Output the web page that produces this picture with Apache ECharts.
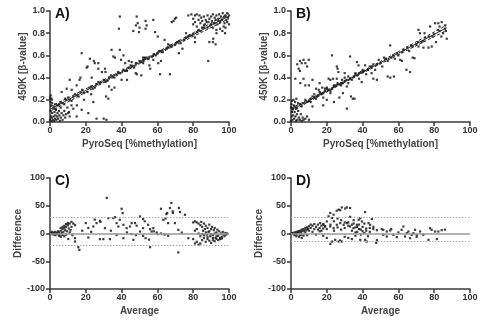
<!DOCTYPE html>
<html><head><meta charset="utf-8">
<script src="https://cdn.jsdelivr.net/npm/echarts/dist/echarts.min.js"></script>
<style>html,body{margin:0;padding:0;background:#fff}#c{width:500px;height:321px}</style>
</head><body><div id="c"></div>
<script>
// ---------- DATA ----------
const xTicks = [0, 20, 40, 60, 80, 100];
const betaTicks = [0.0, 0.2, 0.4, 0.6, 0.8, 1.0];
const diffTicks = [-100, -50, 0, 50, 100];
const panelLabels = ['A)', 'B)', 'C)', 'D)'];
const scatterXName = 'PyroSeq [%methylation]';
const scatterYName = '450K [β-value]';
const baXName = 'Average';
const baYName = 'Difference';

// Panel A: PyroSeq (%) vs 450K beta
const aPoints = [
 [2,0.14],[4,0.15],[5,0.16],[7,0.17],[9,0.2],[11,0.2],[13,0.23],[15,0.24],[17,0.27],[19,0.26],[22,0.31],[24,0.3],[26,0.34],[28,0.35],[31,0.36],[33,0.4],[35,0.41],[37,0.43],[39,0.44],[42,0.46],[44,0.49],[46,0.5],[48,0.53],[51,0.54],[53,0.57],[55,0.57],[58,0.61],[60,0.62],[62,0.64],[65,0.66],[67,0.69],[70,0.7],[72,0.73],[75,0.74],[77,0.77],[79,0.78],[82,0.81],[84,0.82],[86,0.85],[88,0.85],[90,0.88],[92,0.89],[94,0.91],[96,0.92],[98,0.95],
 [39,0.95],[48.4,0.95],[49,0.89],[48,0.87],[50,0.85],[46.5,0.82],[53.4,0.91],[57.7,0.92],[53.4,0.84],[38.5,0.84],[17.7,0.62],[22.3,0.57],[25,0.53],[24.5,0.55],[21,0.5],[20.5,0.49],[17,0.4],[16.5,0.38],[11,0.38],[9.3,0.3],[30.7,0.48],[31,0.45],[34.4,0.65],[39,0.65],[35.4,0.59],[41,0.6],[45.6,0.54],[52,0.58],[53,0.58],[52,0.56],[57.7,0.56],[60.5,0.53],[55.5,0.51],[47.9,0.44],[48.5,0.43],[43,0.38],[40,0.38],[51,0.42],[34.4,0.29],[32.6,0.21],[24.2,0.18],[21.4,0.08],[17.7,0.11],[14.9,0.05],[10.2,0.08],[30,0.03],[31.5,0.02],[26,0.03],[61.5,0.43],[67,0.43],[68,0.9],[69,0.91],[69.8,0.93],[70.5,0.94],[80,0.93],[79,0.97],[81,0.96],[82,0.97],[83.5,0.96],[81,0.72],[85,0.85],[86,0.87],[87.5,0.9],[89,0.72],[91,0.72],[92.5,0.7],[93,0.8],[97.8,0.8],[88.4,0.55],[81,0.76],[91.2,0.75],[96.3,0.82],[77.3,0.96],[12.1,0.29],[14.9,0.33],[8.4,0.21],[6.5,0.27],[4.7,0.15],[9.7,0.13],[10.6,0.09],[0.4,0.24],[1,0.2],[23.3,0.4],[36.3,0.58],[39.7,0.56],[27,0.53],[31.3,0.23],[54,0.87],[58.7,0.81],[49.7,0.81],[60.2,0.77],
 [80,0.88],[81,0.9],[82,0.86],[83,0.92],[84,0.89],[84.5,0.94],[85,0.91],[86,0.95],[86.5,0.88],[87,0.92],[88,0.96],[88.5,0.9],[89,0.93],[89.5,0.87],[90,0.95],[90.5,0.91],[91,0.97],[91.5,0.89],[92,0.94],[92.5,0.92],[93,0.96],[93.5,0.88],[94,0.93],[94.5,0.97],[95,0.9],[95.5,0.95],[96,0.92],[96.5,0.98],[97,0.94],[97.5,0.89],[98,0.96],[98.5,0.92],[99,0.98],[99.5,0.94],[100,0.96],[99,0.9],[97,0.86],[95,0.84],[93,0.83],[91,0.85],[100,0.88],[98,0.85],
 [0,0.02],[0.5,0.05],[0.3,0.1],[0.8,0.01],[1,0.04],[1.2,0.08],[1.5,0.02],[1.8,0.12],[2,0.05],[2.2,0.01],[2.5,0.09],[2.8,0.03],[3,0.06],[3.3,0.11],[3.5,0.02],[4,0.05],[4.2,0.08],[4.5,0.03],[5,0.1],[5.2,0.06],[5.5,0.01],[6,0.04],[6.5,0.08],[7,0.02],[7.5,0.06],[8,0.1],[8.5,0.04],[9,0.07],[0.2,0.18],[0.6,0.15],[1.2,0.17],[0,0.22],[0.8,0.21],[3,0.16],[6,0.13],[12,0.15],[13,0.12],[11,0.05],
 [27,0.48],[29,0.45],[33,0.32],[36,0.31],[42,0.53],[44,0.55],[56,0.48],[64,0.74],[66,0.7],[72,0.62],[74,0.66],[76,0.8],[62,0.55],[19,0.2],[15,0.15],[23,0.25],
 [3,0.12],[6,0.18],[8,0.16],[10,0.22],[12,0.19],[14,0.25],[16,0.23],[18,0.29],[21,0.27],[23,0.32],[25,0.31],[27,0.36],[30,0.38],[32,0.37],[34,0.42],[36,0.4],[38,0.45],[41,0.47],[43,0.46],[45,0.51],[47,0.49],[50,0.55],[52,0.53],[54,0.58],[57,0.59],[59,0.6],[61,0.64],[63,0.63],[66,0.67],[68,0.68],[71,0.72],[73,0.71],[76,0.76],[78,0.78],[80,0.79],[83,0.83]
];
const aFitX = [0, 20, 40, 60, 80, 100];
const aFitMid = [0.115, 0.283, 0.451, 0.619, 0.787, 0.955];
const aFitUp  = [0.137, 0.298, 0.462, 0.630, 0.803, 0.980];
const aFitLo  = [0.093, 0.268, 0.440, 0.608, 0.771, 0.930];

// Panel B
const bPoints = [
 [1,0.12],[3,0.13],[5,0.16],[7,0.17],[9,0.18],[11,0.21],[13,0.22],[15,0.24],[17,0.25],[19,0.28],[21,0.29],[23,0.3],[25,0.33],[27,0.34],[29,0.35],[31,0.38],[33,0.39],[35,0.41],[37,0.42],[39,0.45],[41,0.46],[43,0.47],[45,0.5],[48,0.52],[50,0.53],[53,0.57],[56,0.58],[59,0.62],[62,0.63],[65,0.67],[68,0.68],[71,0.72],[74,0.73],[77,0.77],[80,0.79],[83,0.82],[86,0.84],
 [3.5,0.52],[4.3,0.48],[5,0.55],[6,0.53],[7,0.56],[8,0.53],[9.9,0.56],[9,0.5],[5,0.46],[7,0.39],[2.4,0.39],[5.2,0.35],[8,0.33],[22.9,0.6],[33,0.59],[21,0.39],[22,0.38],[23.5,0.39],[25.6,0.39],[25.6,0.5],[26,0.48],[26.5,0.45],[30,0.44],[28.5,0.38],[31.2,0.32],[33.5,0.23],[34.5,0.21],[35.5,0.21],[31.2,0.12],[36.8,0.54],[37.7,0.51],[41.4,0.51],[43,0.47],[45,0.44],[46,0.39],[48,0.38],[39.5,0.36],[55.4,0.69],[54,0.41],[55.5,0.4],[57.5,0.41],[61,0.56],[62,0.55],[64.5,0.47],[66.5,0.45],[68,0.58],[69,0.575],[71.2,0.83],[72,0.8],[74.6,0.8],[77.7,0.86],[80.5,0.89],[82.3,0.89],[84.2,0.9],[86,0.87],[87,0.75],[78.6,0.68],[71.2,0.68],[74,0.67],[76.8,0.67],[81,0.72],[85,0.8],[84,0.77],[82,0.83],[83,0.86],[86.5,0.82],
 [14.5,0.23],[15.5,0.29],[16.5,0.26],[20,0.2],[13,0.25],[16,0.35],[17.5,0.31],[11,0.18],[12,0.14],[18,0.15],[24,0.18],[27,0.22],[29,0.26],[19,0.3],[10,0.33],[12,0.38],[14,0.3],
 [0,0.01],[0.3,0.05],[0.5,0.09],[0.8,0.02],[1,0.12],[1.2,0.06],[1.5,0.15],[1.8,0.03],[2,0.09],[2.3,0.18],[2.5,0.05],[2.8,0.01],[3,0.12],[3.3,0.07],[3.6,0.02],[4,0.1],[4.4,0.04],[5,0.02],[5.5,0.07],[6,0.01],[6.5,0.04],[7,0.02],[8,0.03],[9,0.05],[0.2,0.16],[0.6,0.19],[1.4,0.2],[3,0.21],[0,0.13],[10,0.02],
 [36,0.44],[38,0.39],[40,0.47],[42,0.43],[44,0.5],[46,0.52],[47,0.47],[49,0.56],[51,0.5],[52,0.58],[54,0.55],[57,0.6],[58,0.57],[60,0.6],[63,0.65],[66,0.64],[67,0.69],[70,0.7],[73,0.72],[75,0.76],[79,0.77],[30,0.4],[32,0.35],[28,0.33],[24,0.33],[20,0.31],[18,0.22],[22,0.26],
 [2,0.14],[4,0.17],[6,0.14],[8,0.2],[10,0.19],[12,0.23],[14,0.21],[16,0.27],[18,0.26],[20,0.3],[22,0.28],[24,0.32],[26,0.35],[28,0.35],[30,0.37],[32,0.41],[34,0.38],[36,0.43],[38,0.44],[40,0.45]
];
const bFitX = [0, 20, 40, 60, 80, 87];
const bFitMid = [0.108, 0.279, 0.449, 0.620, 0.790, 0.850];
const bFitUp  = [0.124, 0.287, 0.458, 0.634, 0.811, 0.874];
const bFitLo  = [0.092, 0.271, 0.440, 0.606, 0.769, 0.826];

// Panel C: Bland-Altman (average, difference)
const cPoints = [
 [0.5,0],[1,1],[1.5,-1],[2,2],[2.5,0],[3,3],[3.5,-1],[4,1],[4.5,4],[5,2],[5.5,-2],[6,5],[6.5,1],[7,8],[7.5,3],[8,10],[8.5,6],[9,12],[9.5,4],[10,15],[10.5,9],[11,18],[11.5,6],[12,21],[6,10],[7,12],[8,14],[9,17],[10,19],[3,-3],[5,-4],[7,-3],[9,-2],[10.2,-10],[1,3],[2,-2],[4,-1],[6,-6],[8,-5],[12,12],[13,18],[14,15],[12.5,-3],[11,2],
 [80,20],[81,22],[82,20],[83,18],[84,15],[84.5,21],[85,12],[85.5,5],[86,18],[86.5,8],[87,14],[87.5,-2],[88,10],[88.5,3],[89,16],[89.5,-5],[90,8],[90.5,12],[91,-3],[91.5,6],[92,10],[92.5,-8],[93,2],[93.5,7],[94,-4],[94.5,4],[95,-10],[95.5,0],[96,-6],[96.5,3],[97,-2],[97.5,-5],[98,1],[98.5,-2],[99,0],[82,-15],[83,-20],[84,-18],[85,-12],[86,-8],[87,-15],[88,-10],[89,-13],[90,-17],[91,-12],[92,-14],[93,-10],[94,-12],[95,-8],[96,-9],[83,0],[84,-5],[86,-3],[88,-6],[90,-1],[91,-8],[92,0],[93,-5],[89,4],[87,2],[85,-1],[81,5],[82,8],[80,-10],[81,-18],
 [31.7,64],[40,44.6],[40.6,36.7],[67,46],[67.8,55],[62,44.6],[65,35],[65.5,37],[68.7,37],[68.5,40],[72,46],[72.6,38.6],[75.4,33.7],[69.8,18.7],[66,18.7],[63.3,24.7],[64.5,27],[71.7,6.6],[73.6,1.8],[77.3,-8.4],[71.7,-34],[55.9,-24.7],[15.8,-24.7],[16.4,-29.5],[14,-8.4],[14,-14.5],[21.4,-7.2],[27.9,-10.2],[29.8,-10.2],[33.5,-10.2],[37.2,-2.4],[41,-8.4],[45.5,-1],[46.6,-11.4],[52,-4.2],[53.4,-8.4],[55.3,-11],[59.6,1.8],[62,0],[64,-2],[66,-4],
 [20,18.7],[21.4,10],[24.2,12.6],[26,18.7],[27.9,22.9],[28.2,21],[30.7,9.6],[32.6,27.7],[35.4,27.7],[36.3,29.5],[37.2,18.7],[38.2,12.6],[39,24.7],[41,15.7],[42.8,9.6],[44.7,12.6],[45.6,18.7],[47.5,18.7],[48.4,14],[50.3,30.7],[52,26],[52.9,22],[50.3,3.6],[52,9.6],[54.8,15.7],[55.9,7.8],[56.8,3.6],[57.7,9.6],[18,5],[23,3],[25,25],[34,5],[43,2],[48,-3],[58,4],[60,-1]
];
const cLines = [0, 30, -22];

// Panel D
const dPoints = [
 [0.5,0],[1,1],[1.5,-1],[2,2],[2.5,0],[3,3],[3.5,1],[4,4],[4.5,2],[5,5],[5.5,3],[6,7],[6.5,4],[7,8],[7.5,5],[8,10],[8.5,6],[9,11],[9.5,8],[10,13],[3,-2],[5,-3],[7,-4],[9,-3],[4.5,-6],[6,-2],[8,2],[10,5],[2,-3],[11,10],[12,14],[13,8],[14,12],[15,16],[16,10],[17,14],[18,9],[12,3],[14,-2],[16,4],[19,13],[11,16],[13,17],[15,7],[17,5],[18,17],
 [28.4,47],[30.3,45],[31.2,47],[33,46],[26.6,43],[25.5,41],[27.5,42],[21.9,37],[21,31],[22.9,28],[23.8,34],[41.4,38.6],[38.7,27.7],[37.8,24.7],[39.6,21.7],[45.2,26],[43.3,18.7],[44.2,15.7],[20,21.7],[16.3,18.7],[18.2,15.7],[19.1,12.6],[21.9,12.6],[23.8,9.6],[25.6,15.7],[27.5,18.7],[29.4,15.7],[31.2,18.7],[33,12.6],[34.9,9.6],[36.8,15.7],[24,22],[26,27],[28,24],[30,10],[32,20],[34,5],[36,2],[38,8],[40,12],[42,5],[44,10],[46,8],[35,18],[37,3],[39,-2],[41,1],[43,-5],
 [50.7,7.8],[51.6,6.6],[53.5,3.6],[55.4,5.4],[57.2,-2.4],[59.1,-6.6],[63.7,-5.4],[64.7,0.6],[65.6,3.6],[66.5,-8.4],[67.5,-2.4],[68.4,0.6],[69.3,6.6],[70.2,-2.4],[72.1,3.6],[73.9,-2.4],[77.7,9.6],[78.6,6.6],[80.5,3.6],[82.3,3.6],[84.2,6],[86,7],[62.8,12.6],[61.8,6.6],[51.6,-2.4],[53.5,-5.4],[47.6,-17],[48,-12],[38.7,-11.4],[41.4,-11.4],[42.3,-14.5],[22,-18.7],[22.9,-14.5],[24.7,-11.4],[26.6,-14.5],[27.5,-12.6],[28.4,-14.5],[76.8,-11.4],[70.2,-6],[32,-8],[34,-10],[36,-4],[30,-6],[18,-4],[20,-8],[3,-5],[6,-8],[81.5,-10],[60,2],[56,8],
 [20,8],[22,16],[24,5],[26,11],[28,7],[30,20],[32,14],[34,16],[36,11],[38,16],[40,4],[42,9],[44,3],[46,12],[48,6],[33,30],[35,24],[37,12],[39,7],[41,18]
];
const dLines = [0, 30, -14];

// ---------- CHART ----------
const chart = echarts.init(document.getElementById('c'), null, {renderer: 'canvas'});
const FONT = 'Liberation Sans, Arial, sans-serif';
const AX = '#3a3a3a';
const grids = [
  {left: 50, top: 11, width: 179, height: 111},
  {left: 291, top: 11, width: 179, height: 111},
  {left: 50, top: 178, width: 179, height: 111},
  {left: 291, top: 178, width: 179, height: 111}
];
function xAxis(i, name) {
  return {
    type: 'value', gridIndex: i, min: xTicks[0], max: xTicks[xTicks.length - 1], interval: xTicks[1] - xTicks[0],
    name: name, nameLocation: 'middle', nameGap: 17,
    nameTextStyle: {fontFamily: FONT, fontSize: 10, fontWeight: 'bold', color: '#444'},
    axisLine: {show: true, onZero: false, lineStyle: {color: AX, width: 1.5}},
    axisTick: {show: true, length: 4, lineStyle: {color: AX, width: 1.5}},
    axisLabel: {margin: 4, fontFamily: FONT, fontSize: 9, fontWeight: 'bold', color: '#333'},
    splitLine: {show: false}
  };
}
function yAxis(i, name, ticks, fmt) {
  return {
    type: 'value', gridIndex: i, min: ticks[0], max: ticks[ticks.length - 1], interval: ticks[1] - ticks[0],
    name: name, nameLocation: 'middle', nameGap: fmt ? 22 : 23,
    nameTextStyle: {fontFamily: FONT, fontSize: 10, fontWeight: 'bold', color: '#444'},
    axisLine: {show: true, onZero: false, lineStyle: {color: AX, width: 1.5}},
    axisTick: {show: true, length: 4, lineStyle: {color: AX, width: 1.5}},
    axisLabel: {margin: 5, fontFamily: FONT, fontSize: 9, fontWeight: 'bold', color: '#333', formatter: fmt},
    splitLine: {show: false}
  };
}
const fmtBeta = v => v.toFixed(1);
function pairs(xs, ys) { return xs.map((x, k) => [x, ys[k]]); }
function scatter(i, pts) {
  return {type: 'scatter', xAxisIndex: i, yAxisIndex: i, data: pts, symbol: 'rect', symbolSize: 2.2,
    itemStyle: {color: '#1a1a1a', opacity: 0.85}, silent: true, z: 3};
}
function fitLine(i, xs, ys, dashed) {
  return {type: 'line', xAxisIndex: i, yAxisIndex: i, data: pairs(xs, ys), showSymbol: false, smooth: true,
    lineStyle: {color: '#222', width: 1, type: dashed ? [3, 2] : 'solid'}, silent: true, z: 4};
}
function baLines(i, vals) {
  return {type: 'line', xAxisIndex: i, yAxisIndex: i, data: [], silent: true,
    markLine: {symbol: 'none', silent: true, label: {show: false}, animation: false,
      data: vals.map((v, k) => ({yAxis: v, lineStyle: k === 0 ? {color: '#999', width: 1.5, type: 'solid'} : {color: '#aaa', width: 1, type: [1.5, 1.5]}}))}};
}
const labelPos = [[55, 7], [296, 7], [55, 174], [296, 174]];
chart.setOption({
  animation: false,
  backgroundColor: '#fff',
  grid: grids,
  xAxis: [xAxis(0, scatterXName), xAxis(1, scatterXName), xAxis(2, baXName), xAxis(3, baXName)],
  yAxis: [yAxis(0, scatterYName, betaTicks, fmtBeta), yAxis(1, scatterYName, betaTicks, fmtBeta),
          yAxis(2, baYName, diffTicks), yAxis(3, baYName, diffTicks)],
  series: [
    scatter(0, aPoints), fitLine(0, aFitX, aFitMid, false), fitLine(0, aFitX, aFitUp, true), fitLine(0, aFitX, aFitLo, true),
    scatter(1, bPoints), fitLine(1, bFitX, bFitMid, false), fitLine(1, bFitX, bFitUp, true), fitLine(1, bFitX, bFitLo, true),
    baLines(2, cLines), scatter(2, cPoints),
    baLines(3, dLines), scatter(3, dPoints)
  ],
  graphic: panelLabels.map((t, k) => ({type: 'text', left: labelPos[k][0], top: labelPos[k][1], z: 10,
    style: {text: t, font: 'bold 14px ' + FONT, fill: '#111'}}))
});
</script></body></html>
